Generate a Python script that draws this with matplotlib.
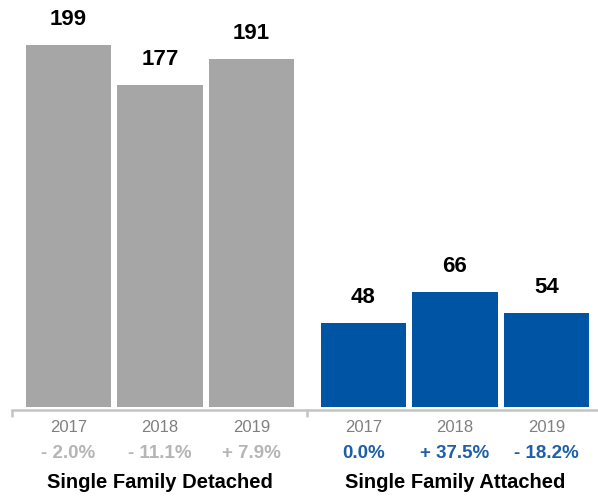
import numpy as np
import matplotlib
matplotlib.use('Agg')
import matplotlib.pyplot as plt
from matplotlib.transforms import blended_transform_factory

plt.rcParams['font.family'] = ['Liberation Sans', 'DejaVu Sans']

YEARS = ['2017', '2018', '2019']
DETACHED = [199, 177, 191]
ATTACHED = [48, 66, 54]
DETACHED_CHANGE = ['- 2.0%', '- 11.1%', '+ 7.9%']
ATTACHED_CHANGE = ['0.0%', '+ 37.5%', '- 18.2%']
GROUPS = ['Single Family Detached', 'Single Family Attached']

GREY = '#a6a6a6'
BLUE = '#0054a4'
AXIS_GREY = '#c4c4c4'

W, H = 598, 496
fig = plt.figure(figsize=(W / 100, H / 100), dpi=100)

bottom = 1 - 407 / H
panels = [
    # (left px, right px, values, colour, changes, change colour, y top, x right)
    (12, 307, DETACHED, GREY, DETACHED_CHANGE, '#b5b5b5', 223.6, 2.607),
    (307, 597, ATTACHED, BLUE, ATTACHED_CHANGE, '#1f5fa8', 233.2, 2.552),
]

for (l, r, vals, col, changes, ccol, ytop, xr), title in zip(panels, GROUPS):
    ax = fig.add_axes([l / W, bottom, (r - l) / W, 1 - bottom])
    x = np.arange(len(vals))
    ax.bar(x, vals, width=0.93, color=col)
    ax.set_xlim(-0.617, xr)
    ax.set_ylim(0, ytop)

    for xi, v in zip(x, vals):
        ax.annotate(str(v), (xi, v), xytext=(0, 14.5), textcoords='offset points',
                    ha='center', va='baseline', fontsize=16, fontweight='bold',
                    color='black')

    # baseline with a tick at the left end of each group
    for s in ['top', 'right', 'left']:
        ax.spines[s].set_visible(False)
    ax.spines['bottom'].set_position(('outward', 2.5))
    ax.spines['bottom'].set_color(AXIS_GREY)
    ax.spines['bottom'].set_linewidth(1.8)
    ax.set_yticks([])
    ax.set_xticks([-0.617])
    ax.set_xticklabels([''])
    ax.tick_params(axis='x', length=5, width=1.8, color=AXIS_GREY, direction='out')

    tr = blended_transform_factory(ax.transData, fig.transFigure)
    for xi, yr, ch in zip(x, YEARS, changes):
        ax.text(xi, 1 - 427 / H, yr, transform=tr, ha='center', va='center',
                fontsize=12, color='#808080')
        ax.text(xi, 1 - 454 / H, ch, transform=tr, ha='center', va='center',
                fontsize=13.5, fontweight='bold', color=ccol)
    ax.text(1, 1 - 482 / H, title, transform=tr, ha='center', va='center',
            fontsize=14.5, fontweight='bold', color='black')

fig.savefig('out.png', dpi=100)
